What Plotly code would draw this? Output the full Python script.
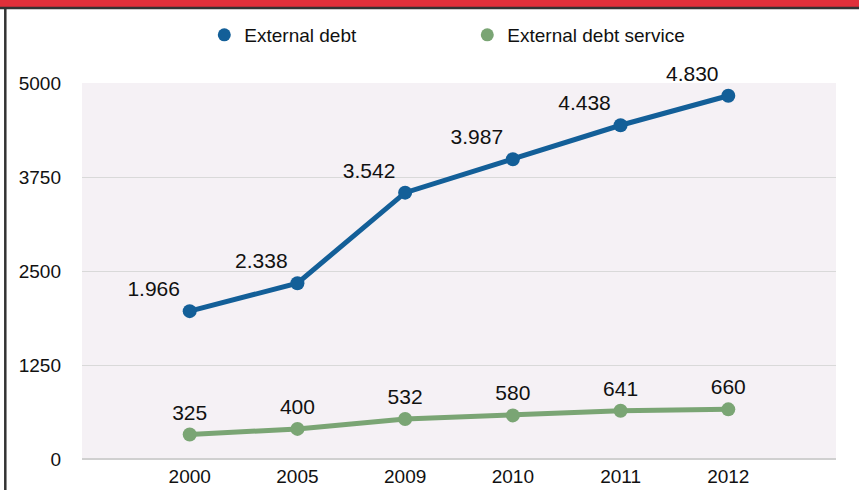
import plotly.graph_objects as go

years = ["2000", "2005", "2009", "2010", "2011", "2012"]
external_debt = [1966, 2338, 3542, 3987, 4438, 4830]
external_debt_service = [325, 400, 532, 580, 641, 660]
debt_labels = ["1.966", "2.338", "3.542", "3.987", "4.438", "4.830"]
service_labels = ["325", "400", "532", "580", "641", "660"]
y_ticks = [0, 1250, 2500, 3750, 5000]

BLUE = "#135F98"
GREEN = "#7AA574"
FONT = "Liberation Sans, Arial, sans-serif"

W, H = 859, 490
L, R, T, B = 82, 23, 83, 31
ph = H - T - B
pw = W - L - R

def py(px):  # pixel y from top -> paper y
    return (H - B - px) / ph

def pxx(px):
    return (px - L) / pw

fig = go.Figure()
fig.add_trace(go.Scatter(
    x=years, y=external_debt, name="External debt", showlegend=False,
    mode="lines+markers+text", text=debt_labels, textposition="top left",
    textfont=dict(size=21, color="#111111", family=FONT),
    line=dict(color=BLUE, width=5), marker=dict(color=BLUE, size=14),
    cliponaxis=False,
))
fig.add_trace(go.Scatter(
    x=years, y=external_debt_service, name="External debt service", showlegend=False,
    mode="lines+markers+text", text=service_labels, textposition="top center",
    textfont=dict(size=21, color="#111111", family=FONT),
    line=dict(color=GREEN, width=5), marker=dict(color=GREEN, size=14),
    cliponaxis=False,
))
# legend entries (marker-style symbols as in the reference)
for name, color in [("External debt", BLUE), ("External debt service", GREEN)]:
    fig.add_trace(go.Scatter(
        x=[None], y=[None], name=name, mode="markers",
        marker=dict(color=color, size=13, symbol="circle"), showlegend=True,
    ))

shapes = [
    dict(type="rect", xref="paper", yref="paper", x0=pxx(0), x1=pxx(W), y0=py(7), y1=py(0),
         fillcolor="#E0303A", line=dict(width=0), layer="above"),
    dict(type="line", xref="paper", yref="paper", x0=pxx(0), x1=pxx(W), y0=py(8), y1=py(8),
         line=dict(color="#333333", width=2.5), layer="above"),
    dict(type="line", xref="paper", yref="paper", x0=pxx(5.3), x1=pxx(5.3), y0=py(8), y1=py(H),
         line=dict(color="#333333", width=2.5), layer="above"),
]

fig.update_layout(
    width=W, height=H,
    margin=dict(l=L, r=R, t=T, b=B, autoexpand=False),
    paper_bgcolor="white", plot_bgcolor="#F5F1F5",
    font=dict(family=FONT, size=19, color="#111111"),
    showlegend=True,
    legend=dict(orientation="h", x=0.511, xanchor="center", y=py(35), yanchor="middle",
                font=dict(size=19, family=FONT), entrywidth=218, entrywidthmode="pixels",
                itemwidth=30, bgcolor="rgba(0,0,0,0)"),
    xaxis=dict(type="category", range=[-1, 6], showgrid=False, zeroline=False,
               showline=False, ticks="", tickfont=dict(size=19), automargin=False,
               ticklabelstandoff=4),
    yaxis=dict(range=[0, 5000], tickvals=y_ticks, ticktext=[str(v) for v in y_ticks],
               showgrid=True, gridcolor="#D9D9D9", gridwidth=1, zeroline=True,
               zerolinecolor="#D0D0D0", zerolinewidth=2, ticks="", ticklabelstandoff=20,
               tickfont=dict(size=19), automargin=False),
    shapes=shapes,
)

fig.write_html("out.html")
